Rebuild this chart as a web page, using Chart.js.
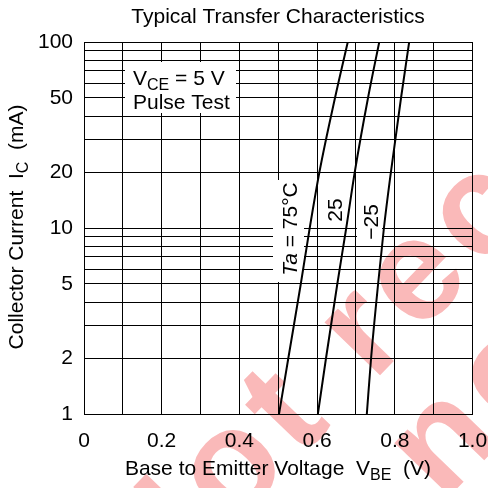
<!DOCTYPE html>
<html>
<head>
<meta charset="utf-8">
<style>
  html, body { margin: 0; padding: 0; background: #fff; }
  #wrap { width: 488px; height: 488px; }
</style>
</head>
<body>
<div id="wrap"><canvas id="chart" width="488" height="488"></canvas></div>

<script src="https://cdn.jsdelivr.net/npm/chart.js"></script>

<script>
/* ---------------- DATA ---------------- */
const currents = [1, 2, 5, 10, 20, 50, 100];                         // Ic (mA)
const vbe75  = [0.502, 0.526, 0.558, 0.581, 0.606, 0.646, 0.679];   // Ta = 75°C
const vbe25  = [0.602, 0.623, 0.652, 0.675, 0.697, 0.731, 0.760];   // Ta = 25°C
const vbeM25 = [0.728, 0.739, 0.757, 0.772, 0.790, 0.816, 0.837];   // Ta = -25°C

const xTicks = [0, 0.1, 0.2, 0.3, 0.4, 0.5, 0.6, 0.7, 0.8, 0.9, 1.0];
const xTickLabels = ['0', '', '0.2', '', '0.4', '', '0.6', '', '0.8', '', '1.0'];
const yTicks = [1, 2, 3, 4, 5, 6, 7, 8, 9, 10, 20, 30, 40, 50, 60, 70, 80, 90, 100];
const yTickLabels = [1, 2, 5, 10, 20, 50, 100];

const FONT = '"Liberation Sans", Arial, sans-serif';

function points(vs) {
  return currents.map((c, i) => ({ x: vs[i], y: c }));
}

// draw a row of text pieces, some of them subscripts
function drawRuns(ctx, runs, x, y, align) {
  let total = 0;
  runs.forEach(r => {
    ctx.font = r.font;
    r.w = ctx.measureText(r.text).width;
    total += r.w;
  });
  let cx = align === 'center' ? x - total / 2 : x;
  ctx.textAlign = 'left';
  ctx.textBaseline = 'alphabetic';
  runs.forEach(r => {
    ctx.font = r.font;
    ctx.fillText(r.text, cx, y + (r.dy || 0));
    cx += r.w;
  });
}

const big = '21px ' + FONT;
const sub = '16px ' + FONT;

/* ---------------- ANNOTATIONS ---------------- */
const annotations = {
  id: 'annotations',
  beforeDatasetsDraw(chart) {
    const ctx = chart.ctx;
    ctx.save();
    ctx.fillStyle = '#fff';
    ctx.fillRect(125, 62, 111, 51);   // VCE box
    ctx.fillRect(273, 180, 31, 102);  // Ta = 75°C
    ctx.fillRect(324, 196, 21, 28);   // 25
    ctx.fillRect(357, 200, 25, 43);   // -25
    ctx.fillStyle = '#000';
    drawRuns(ctx, [
      { text: 'V', font: big },
      { text: 'CE', font: sub, dy: 5 },
      { text: ' = 5 V', font: big }
    ], 133, 85, 'left');
    ctx.font = big;
    ctx.fillText('Pulse Test', 133, 109);

    // rotated curve labels
    const rot = (cx, cy, runs) => {
      ctx.save();
      ctx.translate(cx, cy);
      ctx.rotate(-Math.PI / 2);
      drawRuns(ctx, runs, 0, 7, 'center');
      ctx.restore();
    };
    rot(290, 229, [
      { text: 'Ta', font: 'italic 21px ' + FONT },
      { text: ' = 75°C', font: big }
    ]);
    rot(335, 210, [{ text: '25', font: big }]);
    rot(371, 222, [{ text: '\u221225', font: big }]);
    ctx.restore();
  },
  afterDraw(chart) {
    const ctx = chart.ctx;
    ctx.save();
    ctx.fillStyle = '#000';
    ctx.font = big;
    ctx.textAlign = 'center';
    ctx.fillText('Typical Transfer Characteristics', 278, 23);
    drawRuns(ctx, [
      { text: 'Base to Emitter Voltage  V', font: big },
      { text: 'BE', font: sub, dy: 5 },
      { text: '  (V)', font: big }
    ], 278, 475, 'center');
    ctx.translate(23, 227);
    ctx.rotate(-Math.PI / 2);
    drawRuns(ctx, [
      { text: 'Collector Current  I', font: big },
      { text: 'C', font: sub, dy: 5 },
      { text: '  (mA)', font: big }
    ], 0, 0, 'center');
    ctx.restore();

    // watermark
    ctx.save();
    ctx.globalCompositeOperation = 'multiply';
    ctx.fillStyle = 'rgb(250,185,185)';
    ctx.font = 'bold 145px ' + FONT;
    ctx.letterSpacing = '9px';
    ctx.rotate(-46 * Math.PI / 180);
    ctx.textAlign = 'left';
    ctx.fillText('Not recommended', -334, 534);
    ctx.fillText('for new design', -324, 668);
    ctx.restore();
  }
};

/* ---------------- CHART ---------------- */
const line = { borderColor: '#000', borderWidth: 2, pointRadius: 0, showLine: true,
               fill: false, cubicInterpolationMode: 'monotone' };

new Chart(document.getElementById('chart').getContext('2d'), {
  type: 'scatter',
  data: {
    datasets: [
      Object.assign({ label: '75', data: points(vbe75) }, line),
      Object.assign({ label: '25', data: points(vbe25) }, line),
      Object.assign({ label: '-25', data: points(vbeM25) }, line)
    ]
  },
  options: {
    responsive: false,
    animation: false,
    devicePixelRatio: 1,
    layout: { padding: { left: 0, right: 15.5, top: 42, bottom: 0 } },
    plugins: { legend: { display: false }, tooltip: { enabled: false } },
    scales: {
      x: {
        type: 'linear', min: 0, max: 1,
        afterBuildTicks: s => { s.ticks = xTicks.map(v => ({ value: v })); },
        afterFit: s => { s.height = 74; s.paddingLeft = 0; s.paddingRight = 0; },
        grid: { color: '#000', lineWidth: 1, drawTicks: false },
        border: { color: '#000', width: 1 },
        ticks: {
          autoSkip: false, maxRotation: 0, padding: 15, color: '#000',
          font: { family: FONT, size: 21 },
          callback: (v, i) => xTickLabels[i]
        }
      },
      y: {
        type: 'logarithmic', min: 1, max: 100,
        afterBuildTicks: s => { s.ticks = yTicks.map(v => ({ value: v })); },
        afterFit: s => { s.width = 84; s.paddingTop = 0; s.paddingBottom = 0; },
        grid: { color: '#000', lineWidth: 1, drawTicks: false },
        border: { color: '#000', width: 1 },
        ticks: {
          autoSkip: false, padding: 11, color: '#000',
          font: { family: FONT, size: 21 },
          callback: v => yTickLabels.includes(v) ? String(v) : ''
        }
      }
    }
  },
  plugins: [annotations]
});
</script>
</body>
</html>
